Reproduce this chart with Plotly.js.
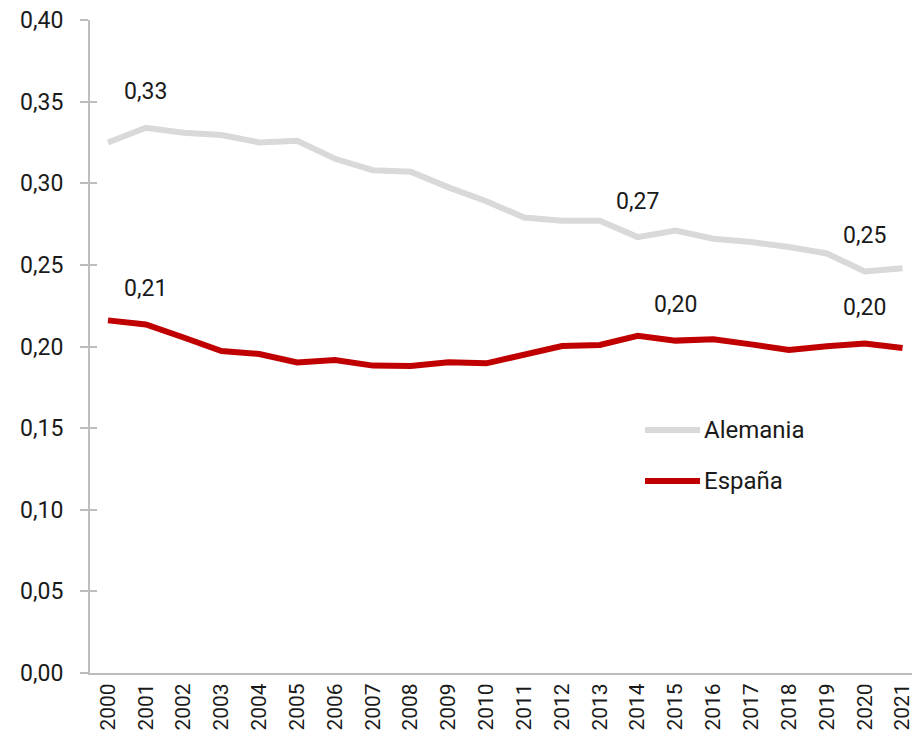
<!DOCTYPE html>
<html>
<head>
<meta charset="utf-8">
<script src="https://cdn.plot.ly/plotly-3.0.1.min.js"></script>
<style>html,body{margin:0;padding:0;background:#fff;}#chart{width:912px;height:744px;}</style>
</head>
<body>
<div id="chart"></div>
<script>
const years = ["2000","2001","2002","2003","2004","2005","2006","2007","2008","2009","2010","2011","2012","2013","2014","2015","2016","2017","2018","2019","2020","2021"];
const alemania = [0.325,0.334,0.331,0.3295,0.325,0.326,0.315,0.308,0.307,0.2975,0.289,0.279,0.277,0.277,0.267,0.271,0.266,0.264,0.261,0.257,0.246,0.248];
const espana = [0.216,0.2135,0.2055,0.1972,0.1954,0.1902,0.1917,0.1883,0.188,0.1903,0.1897,0.1952,0.2003,0.2009,0.2066,0.2036,0.2044,0.2013,0.1979,0.2002,0.2019,0.1991];
const alemaniaLabelYears = ["2001","2014","2020"];
const espanaLabelYears = ["2001","2015","2020"];
const yTicks = [0,0.05,0.10,0.15,0.20,0.25,0.30,0.35,0.40];
const seriesNames = ["Alemania","España"];
const seriesColors = ["#D9D9D9","#C00000"];

const fmt = v => v.toFixed(2).replace('.', ',');
const family = 'Roboto, "Noto Sans", sans-serif';
const textColor = '#1a1a1a';
const axisColor = '#BDBDBD';

function labels(series, labelYears) {
  return labelYears.map(yr => {
    const i = years.indexOf(yr);
    return {x: i, y: series[i], xref: 'x', yref: 'y', text: fmt(series[i]),
      showarrow: false, yshift: 36, font: {family: family, size: 23, color: textColor}};
  });
}

const traces = [
  {x: years, y: alemania, name: seriesNames[0], type: 'scatter', mode: 'lines',
   line: {color: seriesColors[0], width: 6}, hoverinfo: 'skip', showlegend: false},
  {x: years, y: espana, name: seriesNames[1], type: 'scatter', mode: 'lines',
   line: {color: seriesColors[1], width: 6}, hoverinfo: 'skip', showlegend: false},
  {x: [years[0]], y: [0], yaxis: 'y2', type: 'scatter', mode: 'markers',
   marker: {opacity: 0}, showlegend: false, hoverinfo: 'skip'}
];

// custom legend (paper coordinates)
const legX0 = (645 - 90) / 822, legX1 = (700 - 90) / 822, legTextX = (702 - 90) / 822;
const legY = [(673 - 430) / 653, (673 - 481) / 653];
const legendShapes = seriesNames.map((n, k) => ({
  type: 'line', xref: 'paper', yref: 'paper', x0: legX0, x1: legX1, y0: legY[k], y1: legY[k],
  line: {color: seriesColors[k], width: 6}
}));
const legendTexts = seriesNames.map((n, k) => ({
  xref: 'paper', yref: 'paper', x: legTextX, y: legY[k], xanchor: 'left', yanchor: 'middle',
  text: n, showarrow: false, font: {family: family, size: 24, color: textColor}
}));

const layout = {
  width: 912, height: 744,
  margin: {l: 90, r: 0, t: 20, b: 71},
  paper_bgcolor: '#fff', plot_bgcolor: '#fff',
  separators: ',.',
  font: {family: family, size: 21, color: textColor},
  showlegend: false,
  xaxis: {type: 'category', range: [-0.475, 21.25], showline: true, linecolor: axisColor,
          linewidth: 2, ticks: '', tickangle: -90, showgrid: false, zeroline: false,
          tickfont: {family: family, size: 21, color: textColor}},
  yaxis: {range: [0, 0.40], tickvals: yTicks, tickformat: '.2f', showline: true,
          linecolor: axisColor, linewidth: 2, ticks: 'outside', ticklen: 8, tickwidth: 2,
          tickcolor: axisColor, showgrid: false, zeroline: false, ticklabelstandoff: 12,
          tickfont: {family: family, size: 23, color: textColor}},
  yaxis2: {range: [0, 0.40], tickvals: yTicks, overlaying: 'y', side: 'left',
           showline: false, ticks: 'inside', ticklen: 7, tickwidth: 2, tickcolor: axisColor,
           showticklabels: false, showgrid: false, zeroline: false},
  shapes: legendShapes,
  annotations: labels(alemania, alemaniaLabelYears).concat(labels(espana, espanaLabelYears)).concat(legendTexts)
};

Plotly.newPlot('chart', traces, layout, {displayModeBar: false, staticPlot: true});
</script>
</body>
</html>
